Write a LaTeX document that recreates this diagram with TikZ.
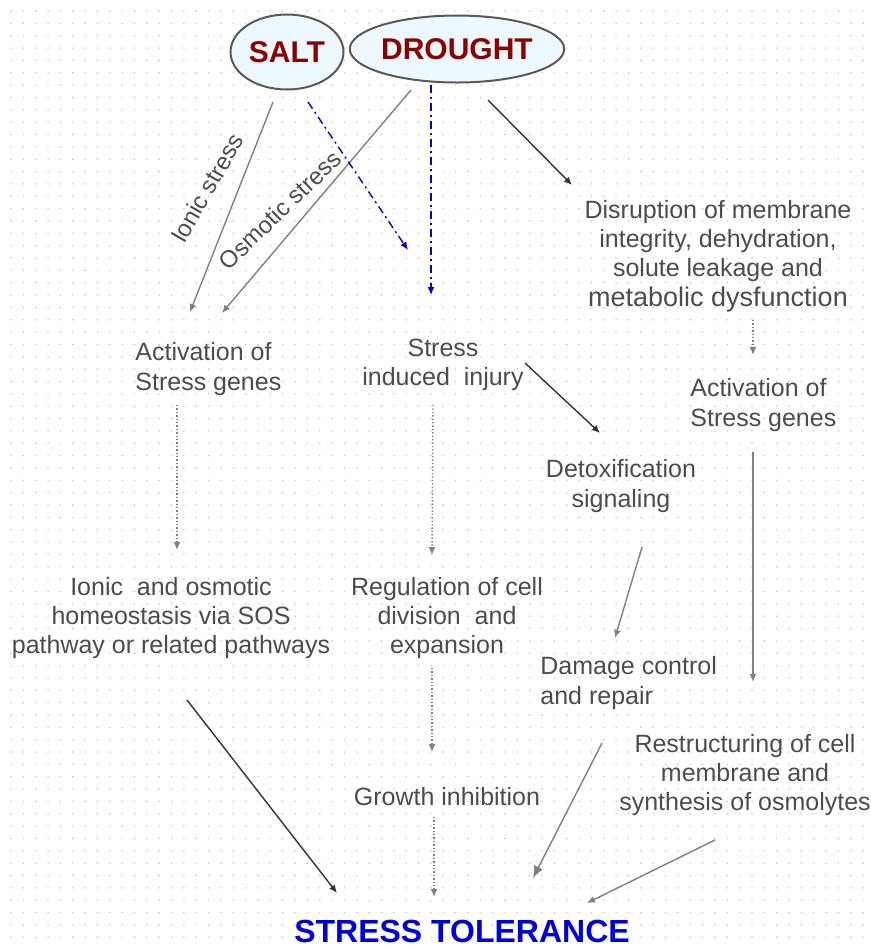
\documentclass[tikz,border=0pt]{standalone}
\usepackage{fontspec}
\setmainfont{Liberation Sans}
\usetikzlibrary{arrows.meta,calc,shapes.geometric}

\begin{document}
\begin{tikzpicture}[x=0.5pt,y=-0.5pt,
  cause/.style={ellipse, draw=black!65, line width=1pt, fill=cyan!7, inner sep=0pt,
                text=red!55!black, font=\bfseries\fontsize{15}{18}\selectfont},
  txt/.style={text=black!70, font=\fontsize{12.5}{14.7}\selectfont, inner sep=0pt, align=center},
  lbl/.style={text=black!70, font=\fontsize{12}{14}\selectfont, inner sep=0pt},
  arr/.style={-{Latex[length=4pt,width=3.5pt]}, line width=0.7pt},
  dk/.style={arr, black!80},
  lt/.style={arr, black!50},
  dt/.style={arr, black!50, densely dotted},
  bl/.style={arr, blue!80!black, dash pattern=on 4pt off 2pt on 1pt off 2pt}
]
  \useasboundingbox (0,0) rectangle (871,949);
  % Dotted background
  \foreach \i in {0,...,69}{
    \foreach \j in {0,...,75}{
      \fill[black!25] ({11+12.35*\i},{11+12.35*\j}) circle (0.4pt);
    }
  }

  % Stresses
  \node[cause, minimum width=56.5pt, minimum height=37.5pt] (salt) at (287,52) {SALT};
  \node[cause, minimum width=94.5pt, minimum height=33.5pt] (drought) at (457,49) {DROUGHT};

  % Responses
  \node[txt] (dis) at (718,256) {Disruption of membrane\\integrity, dehydration,\\solute leakage and\\{\fontsize{13.5}{15}\selectfont metabolic dysfunction}};
  \node[txt, align=left, anchor=west] (ag1) at (135,369) {Activation of\\Stress genes};
  \node[txt] (inj) at (443,365) {Stress\\induced~ injury};
  \node[txt] (detox) at (621,486) {Detoxification\\signaling};
  \node[txt, align=left, anchor=west] (ag2) at (690,405) {Activation of\\Stress genes};
  \node[txt] (homeo) at (171,618) {Ionic~ and osmotic\\homeostasis via SOS\\pathway or related pathways};
  \node[txt] (reg) at (447,618) {Regulation of cell\\division~ and\\expansion};
  \node[txt, align=left, anchor=west] (dmg) at (540,683) {Damage control\\and repair};
  \node[txt] (growth) at (447,797) {Growth inhibition};
  \node[txt] (restr) at (745,775) {Restructuring of cell\\membrane and\\synthesis of osmolytes};
  \node[font=\bfseries\fontsize{16}{19}\selectfont, text=blue!85!black, inner sep=0pt] (tol) at (462,931) {STRESS TOLERANCE};

  % Arrows from the stresses
  \draw[lt] ($(salt)+(-14,50)$) -- ($(ag1.west)+(55,-57)$);
  \draw[lt] ($(drought)+(-46,41)$) -- ($(ag1.west)+(87,-56)$);
  \node[lbl, rotate=60] (ionic) at (207,188) {Ionic stress};
  \node[lbl, rotate=44] (osm) at (280,210) {Osmotic stress};
  \draw[bl] ($(salt)+(21,50)$) -- ($(inj)+(-35,-115)$);
  \draw[bl] ($(drought)+(-26,36)$) -- ($(inj)+(-12,-70)$);
  \draw[dk] ($(drought)+(31,51)$) -- ($(dis)+(-146,-71)$);

  % Down the columns
  \draw[dt] ($(ag1.west)+(42,36)$) -- ($(homeo)+(6,-68)$);
  \draw[dt] ($(inj)+(-10,40)$) -- ($(reg)+(-15,-63)$);
  \draw[dk] ($(inj)+(82,-2)$) -- ($(detox)+(-21,-53)$);
  \draw[dt] ($(dis)+(35,64)$) -- ($(ag2.west)+(63,-50)$);
  \draw[lt] ($(ag2.west)+(63,47)$) -- ($(restr)+(8,-93)$);
  \draw[lt] ($(detox)+(21,61)$) -- ($(dmg.west)+(75,-45)$);
  \draw[dt] ($(reg)+(-15,50)$) -- ($(growth)+(-15,-45)$);

  % Into stress tolerance
  \draw[dt] ($(growth)+(-13,20)$) -- ($(tol)+(-28,-34)$);
  \draw[dk] ($(homeo)+(16,82)$) -- ($(tol)+(-125,-38)$);
  \draw[lt, -{Latex[length=6pt,width=5pt]}] ($(dmg.west)+(62,60)$) -- ($(tol)+(71,-53)$);
  \draw[lt] ($(restr)+(-30,65)$) -- ($(tol)+(125,-28)$);
\end{tikzpicture}
\end{document}
